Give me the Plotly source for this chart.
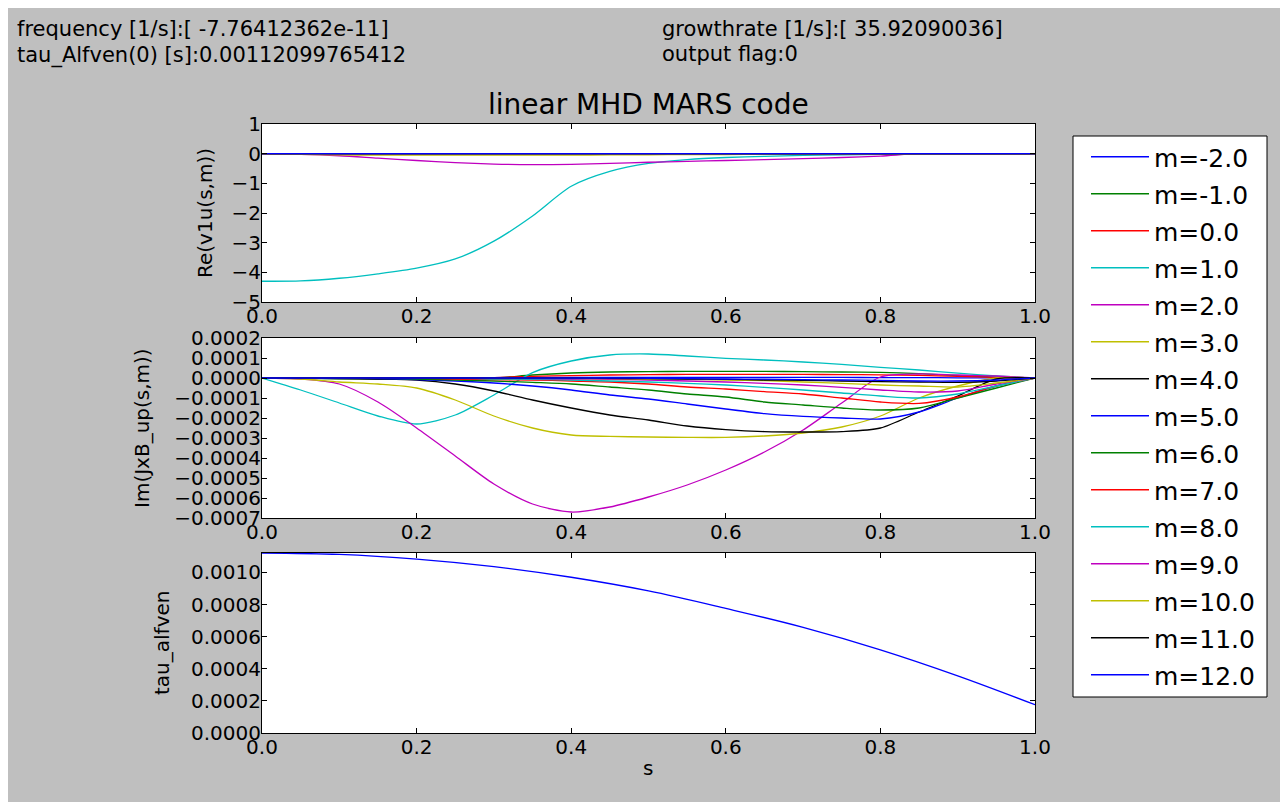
import plotly.graph_objects as go

# ---------------- data ----------------
m_values = [-2.0, -1.0, 0.0, 1.0, 2.0, 3.0, 4.0, 5.0, 6.0, 7.0, 8.0, 9.0, 10.0, 11.0, 12.0]
s_grid = [0.0, 0.05, 0.1, 0.15, 0.2, 0.25, 0.3, 0.35, 0.4, 0.45, 0.5,
          0.55, 0.6, 0.65, 0.7, 0.75, 0.8, 0.85, 0.9, 0.95, 1.0]

# Re(v1u(s,m)), one row per m
re_m1 = [-4.30, -4.29, -4.20, -4.05, -3.86, -3.55, -2.95, -2.10, -1.10, -0.60, -0.33,
         -0.20, -0.13, -0.09, -0.06, -0.04, -0.025, -0.01, -0.005, 0.0, 0.0]
re_m2 = [0.0, -0.02, -0.07, -0.15, -0.23, -0.30, -0.35, -0.37, -0.36, -0.33, -0.29,
         -0.26, -0.23, -0.20, -0.17, -0.13, -0.08, 0.0, 0.0, 0.0, 0.0]
re_m3 = [0.0, -0.02, -0.04, -0.05, -0.05, -0.05, -0.05, -0.05, -0.05, -0.04, -0.04,
         -0.03, -0.03, -0.02, -0.02, -0.01, -0.01, 0.0, 0.0, 0.0, 0.0]
re_zero = [0.0] * 21
re_v1u = [re_zero, re_zero, re_zero, re_m1, re_m2, re_m3, re_zero, re_zero,
          re_zero, re_zero, re_zero, re_zero, re_zero, re_zero, re_zero]

# Im(JxB_up(s,m)) in units of 1e-4, one row per m
im_jxb_e4 = [
    [0, 0, 0, 0, 0, 0.01, 0.02, 0.03, 0.03, 0.03, 0.03, 0.03, 0.03, 0.03, 0.03, 0.03, 0.02, 0.02, 0.01, 0.01, 0],
    [0, -0.02, -0.04, -0.05, -0.05, -0.03, 0.0, 0.15, 0.25, 0.3, 0.32, 0.33, 0.33, 0.33, 0.32, 0.3, 0.28, 0.22, 0.12, 0.05, 0],
    [0, 0, -0.01, -0.02, -0.02, -0.01, 0.02, 0.08, 0.12, 0.15, 0.17, 0.18, 0.18, 0.18, 0.18, 0.17, 0.16, 0.13, 0.08, 0.03, 0],
    [0, -0.6, -1.25, -1.9, -2.3, -1.85, -0.85, 0.27, 0.85, 1.15, 1.2, 1.1, 0.98, 0.9, 0.8, 0.68, 0.53, 0.4, 0.24, 0.1, 0],
    [0, -0.05, -0.3, -1.2, -2.5, -3.9, -5.3, -6.3, -6.7, -6.45, -5.95, -5.35, -4.6, -3.7, -2.6, -1.25, 0.05, 0.2, 0.15, 0.1, 0],
    [0, -0.05, -0.2, -0.3, -0.5, -1.1, -1.9, -2.5, -2.85, -2.92, -2.95, -2.97, -2.97, -2.9, -2.75, -2.45, -1.9, -1.0, -0.4, 0, 0],
    [0, 0, -0.03, -0.05, -0.1, -0.3, -0.65, -1.1, -1.5, -1.85, -2.1, -2.4, -2.58, -2.68, -2.7, -2.68, -2.5, -1.7, -0.9, -0.05, 0],
    [0, 0, 0, -0.03, -0.08, -0.15, -0.25, -0.4, -0.6, -0.85, -1.05, -1.3, -1.55, -1.78, -1.92, -2.0, -2.05, -1.7, -1.0, -0.4, 0],
    [0, 0, 0, -0.02, -0.05, -0.1, -0.15, -0.22, -0.3, -0.45, -0.6, -0.8, -0.95, -1.2, -1.35, -1.5, -1.6, -1.5, -1.0, -0.5, 0],
    [0, 0, 0, 0, 0, -0.05, -0.08, -0.1, -0.15, -0.2, -0.3, -0.45, -0.55, -0.68, -0.8, -1.0, -1.2, -1.27, -0.95, -0.4, 0],
    [0, 0, 0, 0, 0, 0, -0.05, -0.07, -0.1, -0.15, -0.2, -0.27, -0.35, -0.47, -0.6, -0.75, -0.9, -1.0, -0.8, -0.4, 0],
    [0, 0, 0, 0, 0, 0, 0, -0.03, -0.05, -0.07, -0.1, -0.15, -0.2, -0.27, -0.35, -0.47, -0.6, -0.7, -0.65, -0.3, 0],
    [0, 0, 0, 0, 0, 0, 0, 0, -0.02, -0.03, -0.05, -0.07, -0.1, -0.13, -0.2, -0.27, -0.35, -0.4, -0.45, -0.25, 0],
    [0, 0, 0, 0, 0, 0, 0, 0, 0, -0.02, -0.03, -0.05, -0.07, -0.1, -0.12, -0.15, -0.18, -0.2, -0.22, -0.15, 0],
    [0, 0, 0, 0, 0, 0, 0, 0, 0, 0, -0.02, -0.03, -0.05, -0.06, -0.08, -0.1, -0.12, -0.15, -0.15, -0.1, 0],
]

s_tau = [0.0, 0.1, 0.2, 0.3, 0.4, 0.5, 0.6, 0.7, 0.8, 0.9, 1.0]
tau_alfven = [0.001121, 0.001112, 0.001083, 0.001036, 0.00097, 0.000885,
              0.000776, 0.000658, 0.000518, 0.000356, 0.000176]

header_left = ["frequency [1/s]:[ -7.76412362e-11]", "tau_Alfven(0) [s]:0.00112099765412"]
header_right = ["growthrate [1/s]:[ 35.92090036]", "output flag:0"]

x_ticks = [0.0, 0.2, 0.4, 0.6, 0.8, 1.0]
y1_ticks = [1, 0, -1, -2, -3, -4, -5]
y2_ticks = [0.0002, 0.0001, 0.0, -0.0001, -0.0002, -0.0003, -0.0004, -0.0005, -0.0006, -0.0007]
y3_ticks = [0.0, 0.0002, 0.0004, 0.0006, 0.0008, 0.0010]

# matplotlib "classic" colour cycle
cycle = ["#0000ff", "#008000", "#ff0000", "#00bfbf", "#bf00bf", "#bfbf00", "#000000"]

# ---------------- layout helpers ----------------
# positions below are page pixels of the 1288x802 screenshot; the page body has an 8px margin
OFF = 8
W, H = 1275, 794
L, R, T, B = 262, 1035, 124, 733


def px(x):
    return (x - L) / (R - L)


def py(y):
    return (B - y) / (B - T)


FONT = "DejaVu Sans"
fig = go.Figure()

for i, m in enumerate(m_values):
    col = cycle[i % len(cycle)]
    fig.add_trace(go.Scatter(x=s_grid, y=re_v1u[i], mode="lines", xaxis="x", yaxis="y",
                             line=dict(color=col, width=1.3, shape="spline", smoothing=0.8),
                             showlegend=False, hoverinfo="skip"))
for i, m in enumerate(m_values):
    col = cycle[i % len(cycle)]
    fig.add_trace(go.Scatter(x=s_grid, y=[v * 1e-4 for v in im_jxb_e4[i]], mode="lines",
                             xaxis="x2", yaxis="y2", name="m=%.1f" % m, legendgroup=str(i),
                             line=dict(color=col, width=1.3, shape="spline", smoothing=0.8)))
fig.add_trace(go.Scatter(x=s_tau, y=tau_alfven, mode="lines", xaxis="x3", yaxis="y3",
                         line=dict(color="#0000ff", width=1.3, shape="spline"),
                         showlegend=False))

axis_common = dict(showline=True, linecolor="black", linewidth=1, mirror="ticks",
                   ticks="inside", ticklen=5, tickcolor="black", showgrid=False,
                   zeroline=False, tickfont=dict(family=FONT, size=20, color="black"))
xaxis_common = dict(axis_common, ticklabelstandoff=-4)
yaxis_common = dict(axis_common, ticklabelstandoff=-4)

dom1 = [py(302), py(124)]
dom2 = [py(518), py(338)]
dom3 = [py(733), py(553)]

fig.update_layout(
    width=W, height=H,
    margin=dict(l=L - OFF, r=(OFF + W) - R, t=T - OFF, b=(OFF + H) - B, autoexpand=False),
    paper_bgcolor="#bfbfbf", plot_bgcolor="white",
    font=dict(family=FONT, color="black"),
    xaxis=dict(domain=[0, 1], anchor="y", range=[0, 1], tickvals=x_ticks, tickformat=".1f", **xaxis_common),
    yaxis=dict(domain=dom1, anchor="x", range=[-5, 1], tickvals=y1_ticks, **yaxis_common),
    xaxis2=dict(domain=[0, 1], anchor="y2", range=[0, 1], tickvals=x_ticks, tickformat=".1f", **xaxis_common),
    yaxis2=dict(domain=dom2, anchor="x2", range=[-0.0007, 0.0002], tickvals=y2_ticks, tickformat=".4f", **yaxis_common),
    xaxis3=dict(domain=[0, 1], anchor="y3", range=[0, 1], tickvals=x_ticks, tickformat=".1f", **xaxis_common),
    yaxis3=dict(domain=dom3, anchor="x3", range=[0, 0.001121], tickvals=y3_ticks, tickformat=".4f", **yaxis_common),
    legend=dict(x=px(1086), y=py(134), xanchor="left", yanchor="top",
                bgcolor="rgba(0,0,0,0)", borderwidth=0, tracegroupgap=1.5,
                itemwidth=58, font=dict(family=FONT, size=25, color="black"),
                traceorder="grouped"),
    showlegend=True,
)

# legend frame
shapes = [
    dict(type="rect", xref="paper", yref="paper", x0=px(1073), x1=px(1267), y0=py(697), y1=py(136),
         fillcolor="white", line=dict(color="black", width=1), layer="below"),
]
fig.update_layout(shapes=shapes)

ann = []
for j, t in enumerate(header_left):
    ann.append(dict(text=t, x=px(15), y=py(29 + 26 * j), xref="paper", yref="paper",
                    xanchor="left", yanchor="middle", showarrow=False,
                    font=dict(family=FONT, size=21, color="black")))
for j, t in enumerate(header_right):
    ann.append(dict(text=t, x=px(660), y=py(29 + 25 * j), xref="paper", yref="paper",
                    xanchor="left", yanchor="middle", showarrow=False,
                    font=dict(family=FONT, size=21, color="black")))
ann.append(dict(text="linear MHD MARS code", x=px(648), y=py(104), xref="paper", yref="paper",
                xanchor="center", yanchor="middle", showarrow=False,
                font=dict(family=FONT, size=28, color="black")))
for t, xx, yy in [("Re(v1u(s,m))", 205, 213), ("Im(JxB_up(s,m))", 142, 428), ("tau_alfven", 162, 643)]:
    ann.append(dict(text=t, x=px(xx), y=py(yy), xref="paper", yref="paper", textangle=-90,
                    xanchor="center", yanchor="middle", showarrow=False,
                    font=dict(family=FONT, size=20, color="black")))
ann.append(dict(text="s", x=px(648), y=py(768), xref="paper", yref="paper",
                xanchor="center", yanchor="middle", showarrow=False,
                font=dict(family=FONT, size=20, color="black")))
fig.update_layout(annotations=ann)

fig.write_html("out.html")
